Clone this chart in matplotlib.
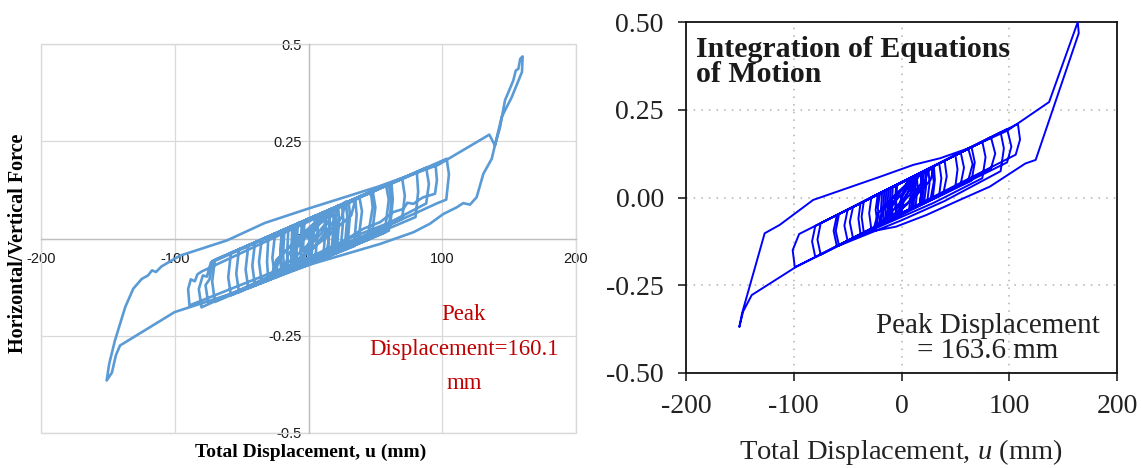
import matplotlib
matplotlib.use("Agg")
import matplotlib.pyplot as plt
from matplotlib.patches import Rectangle

plt.rcParams["mathtext.fontset"] = "custom"
plt.rcParams["mathtext.rm"] = "Liberation Serif"
plt.rcParams["mathtext.it"] = "Liberation Serif:italic"

# ---- left panel: measured hysteresis (displacement mm, H/V force) ----
test_disp = [
    0, 8, 15, 16, 14,
    -10, -11, -10,
    22, 23, 21,
    -18, -19, -18,
    30, 31, 29,
    -25, -27, -25,
    38, 40, 37,
    -35, -37, -35,
    45, 47, 48, 44,
    -45, -47, -45,
    58, 60, 57,
    -58, -60, -58,
    81, 82, 80,
    -70, -72, -70,
    95, 96, 94.6, 85.8, 82, 78.4, 74, 70.9, 63.4, 53.5, 41, 20,
    -80, -82, -79, -76, -73,
    103.3, 105, 103, 95.8, 80, 40,
    -89, -90, -88, -85, -83, -80,
    60, 62, 60, 0, -49.5, -100, -140.9, -144, -147, -150.9,
    -149, -144.7, -137, -131, -124.7, -120, -117, -114, -110, -96, -61, -32.6, 0, 51.8, 96.8,
    135.2, 139.4, 143.2, 146.9, 153.1, 155, 156.9, 158.3, 160.1,
    159.6, 151.9, 144.4, 139.4, 137, 130.7, 125.7, 120.7, 115.7, 110.8, 100.8, 90.8, 78.4,
    53.5, 28.6, 0, -30, -60, -75,
    -77, -74, -72,
    88, 90, 88, 60, 30, 0, -52,
    -54, -52,
    70, 72, 70, -40,
    -42, -40,
    62, 63, 61, -30,
    -31, -30,
    48, 50, 47, -20,
    -21, -20,
    35, 36, 34, -12,
    -13, -12,
    25, 26, 24, -5,
    -6, -5,
    15, 16, 14, 2, 3, 5,
    12, 13, 11,
    -15, -16, -15,
    20, 21, 19,
    -8, -9, -8,
    28, 29, 27,
    -20, -21, -20,
    6, 7, 5,
    -3, -4, -3,
    18, 19, 17,
    0, 1,
    10, 22, 20, 5, -12, -18, -15, 0, 15, 28, 25, 8, -8, -25, -22, -5,
    12, 35, 32, 14, -10, -28, -24, -8, 6, 14, 12, 0, -14, -8, 4, 18,
    10, -3, 2,
]
test_force = [
    0.000, 0.062, 0.072, 0.040, -0.045,
    -0.079, -0.030, 0.035,
    0.083, 0.050, -0.036,
    -0.090, -0.040, 0.023,
    0.095, 0.060, -0.024,
    -0.100, -0.050, 0.012,
    0.107, 0.070, -0.013,
    -0.114, -0.060, -0.002,
    0.118, 0.110, 0.080, -0.003,
    -0.128, -0.080, -0.018,
    0.137, 0.100, 0.015,
    -0.146, -0.100, -0.037,
    0.170, 0.120, 0.055,
    -0.163, -0.110, -0.055,
    0.190, 0.150, 0.115, 0.106, 0.098, 0.089, 0.092, 0.076, 0.068, 0.042, 0.025, -0.020,
    -0.177, -0.130, -0.095, -0.098, -0.062,
    0.205, 0.165, 0.100, 0.090, 0.065, 0.005,
    -0.172, -0.130, -0.105, -0.110, -0.092, -0.085,
    0.140, 0.100, 0.020, -0.068, -0.133, -0.189, -0.275, -0.300, -0.345, -0.365,
    -0.322, -0.262, -0.176, -0.129, -0.104, -0.095, -0.082, -0.086, -0.072, -0.044, -0.005, 0.040, 0.077, 0.133, 0.189,
    0.267, 0.239, 0.286, 0.355, 0.406, 0.432, 0.436, 0.462, 0.468,
    0.428, 0.363, 0.312, 0.239, 0.205, 0.166, 0.106, 0.087, 0.091, 0.080, 0.063, 0.038, 0.016,
    -0.014, -0.039, -0.068, -0.105, -0.145, -0.165,
    -0.120, -0.105, -0.058,
    0.182, 0.140, 0.090, 0.040, 0.000, -0.050, -0.138,
    -0.090, -0.028,
    0.155, 0.110, 0.050, -0.121,
    -0.070, -0.010,
    0.143, 0.100, 0.030, -0.107,
    -0.060, 0.005,
    0.122, 0.080, 0.000, -0.093,
    -0.050, 0.020,
    0.100, 0.060, -0.020, -0.082,
    -0.040, 0.032,
    0.088, 0.050, -0.031, -0.072,
    -0.030, 0.043,
    0.072, 0.040, -0.045, -0.062, -0.010, 0.050,
    0.068, 0.035, -0.050,
    -0.086, -0.040, 0.028,
    0.080, 0.045, -0.038,
    -0.076, -0.030, 0.038,
    0.092, 0.055, -0.027,
    -0.093, -0.045, 0.020,
    0.059, 0.030, -0.058,
    -0.069, -0.020, 0.046,
    0.077, 0.040, -0.041,
    -0.065, 0.000,
    0.050, 0.085, 0.050, -0.020, -0.070, -0.080, -0.040, 0.020, 0.065, 0.095, 0.055, -0.010, -0.055, -0.095, -0.050, 0.010,
    0.060, 0.100, 0.060, 0.005, -0.060, -0.100, -0.055, 0.000, 0.045, 0.070, 0.035, -0.015, -0.060, -0.020, 0.025, 0.065,
    0.015, -0.035, 0.000,
]

# ---- right panel: integration of equations of motion ----
calc_disp = [
    0, 6, 12, 13, 11,
    -8, -9, -8,
    18, 19, 17,
    -14, -15, -14,
    28, 30, 27,
    -22, -24, -22,
    40, 42, 39,
    -35, -37, -35,
    55, 58, 55,
    -50, -53, -50,
    62, 66, 62,
    -60, -63, -60,
    83, 87, 83,
    -80, -83, -80,
    98, 102, 98,
    -99, -101, -95,
    108, 110, 106,
    -97, -139, -147, -150.5,
    -148, -127, -113, -82, -51, -20, 11, 36, 62, 98, 137, 163.6,
    164.5, 124.5, 115, 82, 54, 23, -5, -30, -55, -75,
    -78, -75,
    92, 95, 92, 40, 0, -58,
    -61, -58,
    75, 78, 75, 30, -45,
    -48, -45,
    65, 68, 65, -38,
    -40, -38,
    50, 52, 50, -28,
    -30, -28,
    35, 37, 35, -20,
    -22, -20,
    25, 26, 24, -12,
    -13, -12,
    18, 19, 17, -5,
    -6, -5,
    10, 11, 9, 0, 2,
    14, 15, 13,
    -16, -17, -16,
    22, 23, 21,
    -10, -11, -10,
    30, 31, 29,
    -18, -19, -18,
    8, 9, 7,
    -4, -5, -4,
    20, 21, 19,
    -2, 0,
    10, 20, 18, 5, -10, -15, -12, 0, 15, 25, 22, 8, -5, -20, -18, -5,
    10, 30, 27, 12, -8, -25, -22, -8, 5, 12, 10, 0, -12, -7, 3, 15,
    8, -3, 0,
]
calc_force = [
    0.000, 0.052, 0.062, 0.035, -0.029,
    -0.058, -0.020, 0.031,
    0.071, 0.030, -0.020,
    -0.068, -0.025, 0.021,
    0.086, 0.045, -0.004,
    -0.080, -0.035, 0.009,
    0.105, 0.060, 0.014,
    -0.100, -0.055, -0.011,
    0.128, 0.085, 0.039,
    -0.124, -0.080, -0.035,
    0.139, 0.095, 0.050,
    -0.139, -0.095, -0.050,
    0.172, 0.125, 0.083,
    -0.170, -0.125, -0.081,
    0.195, 0.145, 0.100,
    -0.199, -0.150, -0.104,
    0.210, 0.165, 0.122,
    -0.196, -0.278, -0.325, -0.369,
    -0.330, -0.102, -0.078, -0.007, 0.026, 0.059, 0.093, 0.112, 0.140, 0.190, 0.272, 0.500,
    0.468, 0.107, 0.097, 0.031, -0.007, -0.050, -0.083, -0.098, -0.131, -0.163,
    -0.120, -0.073,
    0.186, 0.140, 0.075, -0.010, -0.065, -0.137,
    -0.095, -0.047,
    0.159, 0.115, 0.055, -0.015, -0.116,
    -0.070, -0.027,
    0.144, 0.100, 0.048, -0.105,
    -0.060, -0.016,
    0.121, 0.080, 0.032, -0.090,
    -0.045, 0.000,
    0.097, 0.055, 0.008, -0.077,
    -0.030, 0.012,
    0.082, 0.040, -0.009, -0.065,
    -0.020, 0.024,
    0.071, 0.030, -0.020, -0.054,
    -0.010, 0.035,
    0.058, 0.020, -0.032, -0.046, -0.010,
    0.065, 0.030, -0.026,
    -0.071, -0.030, 0.018,
    0.077, 0.035, -0.013,
    -0.062, -0.020, 0.028,
    0.090, 0.050, -0.001,
    -0.074, -0.030, 0.015,
    0.055, 0.020, -0.035,
    -0.052, -0.010, 0.037,
    0.074, 0.035, -0.017,
    -0.049, 0.000,
    0.045, 0.070, 0.040, -0.020, -0.060, -0.065, -0.030, 0.020, 0.060, 0.080, 0.045, -0.010, -0.045, -0.075, -0.040, 0.010,
    0.050, 0.085, 0.050, 0.000, -0.050, -0.080, -0.045, 0.000, 0.040, 0.060, 0.030, -0.010, -0.050, -0.015, 0.020, 0.055,
    0.010, -0.030, 0.000,
]

x_ticks = [-200, -100, 0, 100, 200]
y_ticks = [-0.5, -0.25, 0, 0.25, 0.5]
left_xlabels = ["-200", "-100", "0", "100", "200"]
left_ylabels = ["-0.5", "-0.25", "0", "0.25", "0.5"]
right_xlabels = ["-200", "-100", "0", "100", "200"]
right_ylabels = ["-0.50", "-0.25", "0.00", "0.25", "0.50"]

W, H = 1142, 468
fig = plt.figure(figsize=(W / 100, H / 100), dpi=100)
fig.patch.set_facecolor("white")

# ---------- left: spreadsheet-style chart ----------
ax1 = fig.add_axes([41 / W, 35 / H, 535 / W, 389 / H])
ax1.plot(test_disp, test_force, color="#5B9BD5", lw=1.9,
         solid_joinstyle="round", zorder=3)
ax1.set_xlim(-200, 200)
ax1.set_ylim(-0.5, 0.5)
ax1.set_axisbelow(True)
ax1.grid(True, color="#d9d9d9", lw=0.9)
for side in ("left", "bottom"):
    ax1.spines[side].set_position(("data", 0))
    ax1.spines[side].set_color("#bfbfbf")
    ax1.spines[side].set_linewidth(1.0)
for side in ("top", "right"):
    ax1.spines[side].set_visible(False)
ax1.add_patch(Rectangle((0, 0), 1, 1, transform=ax1.transAxes, fill=False,
                        edgecolor="#d9d9d9", lw=1.0, clip_on=False))
ax1.set_xticks(x_ticks)
ax1.set_yticks(y_ticks)
ax1.set_xticklabels(left_xlabels, fontsize=10.5, fontfamily="Liberation Sans")
ax1.set_yticklabels(left_ylabels, fontsize=10.5, fontfamily="Liberation Sans")
ax1.tick_params(axis="both", length=0, colors="#1a1a1a")
ax1.tick_params(axis="x", pad=10)
ax1.tick_params(axis="y", pad=5)

fig.text(311 / W, (H - 452) / H, "Total Displacement, u (mm)",
         ha="center", va="center", fontsize=14, fontweight="bold",
         family="Liberation Serif")
fig.text(18 / W, (H - 243) / H, "Horizontal/Vertical Force", rotation=90,
         ha="center", va="center", fontsize=14.5, fontweight="bold",
         family="Liberation Serif")
fig.text(464 / W, (H - 349) / H, "Peak\nDisplacement=160.1\nmm",
         ha="center", va="center", multialignment="center", color="#C00000",
         fontsize=16.5, family="Liberation Serif", linespacing=1.85)

# ---------- right: journal-style chart ----------
ax2 = fig.add_axes([686 / W, 95 / H, 431 / W, 351 / H])
ax2.plot(calc_disp, calc_force, color="#0000FF", lw=1.4, zorder=3)
ax2.set_xlim(-200, 200)
ax2.set_ylim(-0.5, 0.5)
ax2.set_axisbelow(True)
ax2.grid(True, color="#b0b0b0", lw=1.1, linestyle=(0, (1, 4)))
for sp in ax2.spines.values():
    sp.set_color("#111111")
    sp.set_linewidth(1.3)
ax2.set_xticks(x_ticks)
ax2.set_yticks(y_ticks)
ax2.set_xticklabels(right_xlabels, fontsize=20, fontfamily="Liberation Serif")
ax2.set_yticklabels(right_ylabels, fontsize=20, fontfamily="Liberation Serif")
ax2.tick_params(direction="out", length=6, width=1.2, colors="#222222")
ax2.tick_params(axis="x", pad=9)
ax2.tick_params(axis="y", pad=10)

ax2.text(0.023, 0.96, "Integration of Equations\nof Motion",
         transform=ax2.transAxes, ha="left", va="top", fontsize=21.5,
         fontweight="bold", family="Liberation Serif", linespacing=0.9,
         color="#1a1a1a")
ax2.text(0.70, 0.097, "Peak Displacement\n= 163.6 mm",
         transform=ax2.transAxes, ha="center", va="center",
         multialignment="center", fontsize=21, family="Liberation Serif",
         linespacing=0.95, color="#222222")
fig.text(901 / W, (H - 452) / H, "Total Displacement, $u$ (mm)",
         ha="center", va="center", fontsize=20.5, family="Liberation Serif",
         color="#222222")

fig.savefig("out.png", dpi=100, facecolor="white")
